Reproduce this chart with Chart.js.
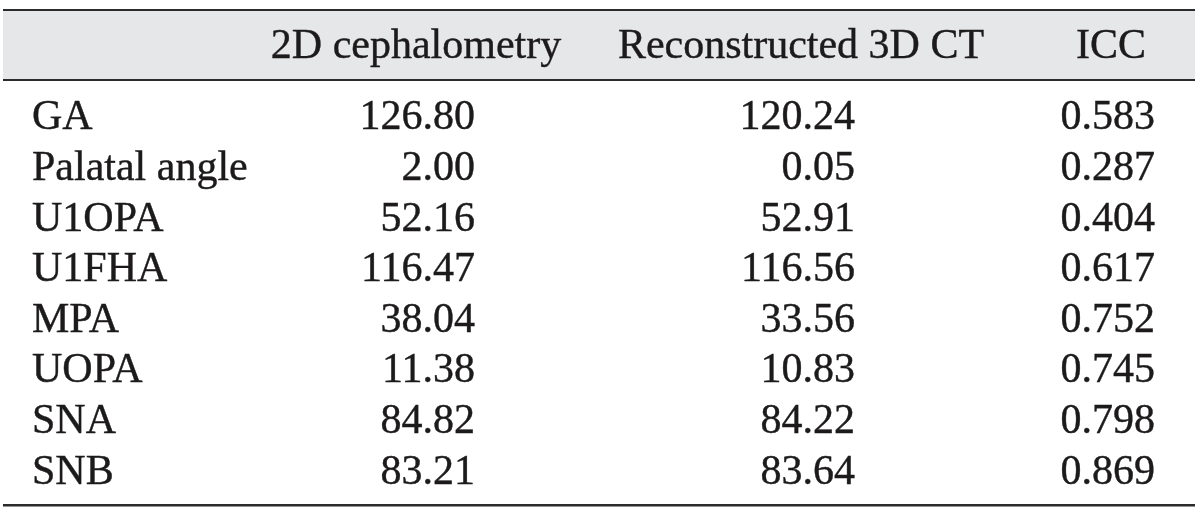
<!DOCTYPE html>
<html>
<head>
<meta charset="utf-8">
<script src="https://cdn.jsdelivr.net/npm/chart.js@4.4.1/dist/chart.umd.min.js"></script>
<style>
  html, body { margin: 0; padding: 0; background: #fff; }
  #wrap { width: 1200px; height: 513px; position: relative; }
</style>
</head>
<body>
<div id="wrap"><canvas id="table"></canvas></div>
<script>
// table data
const rowLabels = ['GA', 'Palatal angle', 'U1OPA', 'U1FHA', 'MPA', 'UOPA', 'SNA', 'SNB'];
const columnHeaders = ['', '2D cephalometry', 'Reconstructed 3D CT', 'ICC'];
const ceph2d = [126.80, 2.00, 52.16, 116.47, 38.04, 11.38, 84.82, 83.21];
const ct3d = [120.24, 0.05, 52.91, 116.56, 33.56, 10.83, 84.22, 83.64];
const icc = [0.583, 0.287, 0.404, 0.617, 0.752, 0.745, 0.798, 0.869];

// layout (x in table units, scale runs 0..1200)
const colRight = [0, 475, 855, 1155];
const colHead = [0, 416, 801, 1111];
const labelLeft = 32;
const fontSize = 42;
const textColor = '#1c1a1b';
const ruleColor = '#2b2b2b';
const headFill = '#e6e7e8';

const columns = [
  null,
  ceph2d.map((v) => v.toFixed(2)),
  ct3d.map((v) => v.toFixed(2)),
  icc.map((v) => v.toFixed(3)),
];

const tablePlugin = {
  id: 'tableCells',
  beforeDraw: (chart) => {
    const { ctx, chartArea, scales } = chart;
    const x = scales.x;
    const left = x.getPixelForValue(3);
    const right = x.getPixelForValue(1195);
    ctx.save();
    ctx.fillStyle = '#fff';
    ctx.fillRect(0, 0, chart.width, chart.height);
    // header band
    const headTop = chartArea.top - 81;
    const headBottom = chartArea.top - 11;
    ctx.fillStyle = headFill;
    ctx.fillRect(left, headTop, right - left, headBottom - headTop);
    ctx.fillStyle = ruleColor;
    ctx.fillRect(left, headTop - 1, right - left, 2);
    ctx.fillRect(left, headBottom - 1, right - left, 2);
    ctx.fillRect(left, chartArea.bottom + 8, right - left, 2.5);
    ctx.restore();
  },
  afterDraw: (chart) => {
    const { ctx, chartArea, scales } = chart;
    const x = scales.x;
    const y = scales.y;
    ctx.save();
    ctx.font = fontSize + 'px "Liberation Serif", "Times New Roman", serif';
    ctx.fillStyle = textColor;
    ctx.strokeStyle = textColor;
    ctx.lineWidth = 0.4;
    ctx.textBaseline = 'alphabetic';
    const capShift = fontSize * 0.31;
    const put = (txt, px, py) => {
      ctx.fillText(txt, px, py);
      ctx.strokeText(txt, px, py);
    };

    // header row
    ctx.textAlign = 'center';
    const headBase = chartArea.top - 33;
    for (let c = 1; c < columnHeaders.length; c += 1) {
      put(columnHeaders[c], x.getPixelForValue(colHead[c]), headBase);
    }

    // body rows
    rowLabels.forEach((label, i) => {
      const base = y.getPixelForValue(i) + capShift;
      ctx.textAlign = 'left';
      put(label, x.getPixelForValue(labelLeft), base);
      ctx.textAlign = 'right';
      for (let c = 1; c < columns.length; c += 1) {
        put(columns[c][i], x.getPixelForValue(colRight[c]), base);
      }
    });
    ctx.restore();
  },
};

new Chart(document.getElementById('table'), {
  type: 'scatter',
  data: { datasets: [] },
  plugins: [tablePlugin],
  options: {
    responsive: true,
    maintainAspectRatio: false,
    animation: false,
    layout: { padding: { top: 91, bottom: 17, left: 0, right: 0 } },
    plugins: { legend: { display: false }, tooltip: { enabled: false } },
    scales: {
      x: { type: 'linear', min: 0, max: 1200, display: false },
      y: { type: 'category', labels: rowLabels, offset: true, display: false },
    },
  },
});
</script>
</body>
</html>
